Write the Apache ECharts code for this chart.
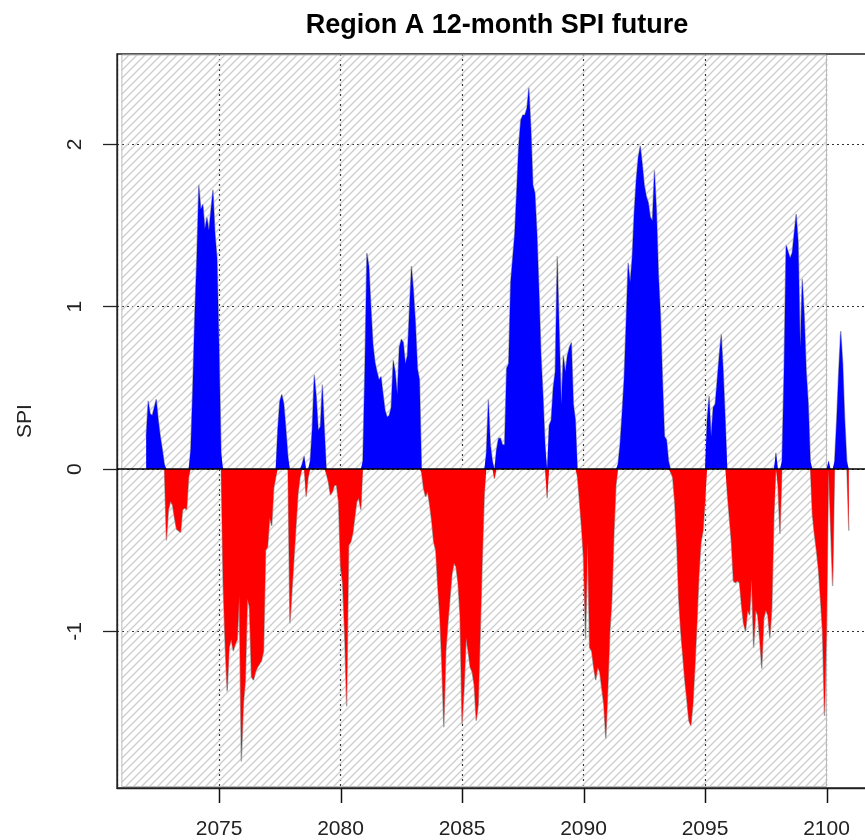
<!DOCTYPE html>
<html>
<head>
<meta charset="utf-8">
<script src="https://cdn.jsdelivr.net/npm/echarts@6/dist/echarts.min.js"></script>
<style>
html,body{margin:0;padding:0;background:#fff;}
#chart{width:865px;height:840px;}
</style>
</head>
<body>
<div id="chart"></div>
<script>
// ---- data (monthly 12-month SPI, Jan 2072 .. Dec 2100) ----
const startYear = 2072;
const spi2072_2079 = [
  0.2, 0.42, 0.34, 0.33, 0.38, 0.43, 0.3, 0.2, 0.12, 0.03, -0.44, -0.25,
  -0.2, -0.22, -0.3, -0.37, -0.38, -0.39, -0.25, -0.24, -0.25, -0.05, 0.12, 0.5,
  0.95, 1.3, 1.75, 1.6, 1.63, 1.48, 1.55, 1.47, 1.6, 1.72, 1.45, 1.3,
  0.75, 0.1, -0.7, -1.08, -1.37, -1.1, -1.05, -1.12, -1.08, -1.05, -0.78, -1.8,
  -1.45, -1.3, -0.8, -0.85, -1.28, -1.3, -1.25, -1.22, -1.2, -1.18, -1.12, -0.5,
  -0.48, -0.3, -0.35, -0.12, -0.05, 0.25, 0.42, 0.46, 0.4, 0.25, 0.08, -0.95,
  -0.75, -0.55, -0.35, -0.15, -0.05, 0.03, 0.08, -0.17, -0.05, 0.05, 0.25, 0.58,
  0.45, 0.24, 0.26, 0.52, 0.25, -0.03, -0.08, -0.16, -0.14, -0.1, -0.1, -0.2
];
const spi2080_2089 = [
  -0.6, -0.7, -1.0, -1.46, -0.47, -0.45, -0.4, -0.3, -0.2, -0.18, -0.25, 0.05,
  0.62, 1.33, 1.25, 1.0, 0.77, 0.66, 0.6, 0.55, 0.57, 0.46, 0.36, 0.32,
  0.33, 0.38, 0.67, 0.6, 0.46, 0.75, 0.8, 0.78, 0.65, 0.7, 0.98, 1.25,
  1.1, 0.9, 0.62, 0.55, -0.02, -0.12, -0.17, -0.14, -0.22, -0.32, -0.45, -0.5,
  -0.72, -0.9, -1.2, -1.59, -1.12, -0.95, -0.8, -0.65, -0.58, -0.6, -0.7, -0.9,
  -1.57, -1.35, -1.04, -1.12, -1.22, -1.25, -1.33, -1.55, -1.45, -1.0, -0.55, -0.15,
  0.1, 0.43, 0.15, 0.05, -0.06, 0.12, 0.19, 0.19, 0.15, 0.15, 0.62, 0.65,
  1.15, 1.3, 1.45, 1.72, 2.0, 2.15, 2.18, 2.18, 2.22, 2.35, 2.1, 1.75,
  1.7, 1.45, 1.1, 0.7, 0.45, 0.15, -0.18, 0.27, 0.3, 0.5, 0.6, 1.31,
  0.85, 0.4, 0.7, 0.6, 0.7, 0.75, 0.78, 0.4, 0.3, -0.05, -0.2, -0.36
];
const spi2090_2100 = [
  -0.55, -1.05, -0.45, -1.1, -1.12, -1.22, -1.3, -1.22, -1.25, -1.35, -1.45, -1.66,
  -1.35, -1.0, -0.8, -0.4, -0.1, 0.03, 0.15, 0.34, 0.55, 0.9, 1.27, 1.15,
  1.3, 1.58, 1.78, 1.92, 1.99, 1.88, 1.75, 1.68, 1.64, 1.55, 1.53, 1.84,
  1.6, 1.2, 0.95, 0.55, 0.2, 0.18, 0.05, -0.02, -0.05, -0.2, -0.45, -0.8,
  -1.0, -1.15, -1.3, -1.42, -1.55, -1.58, -1.45, -1.22, -0.95, -0.65, -0.45, -0.38,
  -0.2, 0.3, 0.45, 0.2, 0.38, 0.4, 0.55, 0.7, 0.83, 0.6, 0.3, -0.15,
  -0.3, -0.45, -0.69, -0.7, -0.69, -0.7, -0.84, -0.95, -1.0, -0.87, -0.9, -0.68,
  -1.1, -0.87, -0.9, -1.05, -1.23, -0.92, -0.87, -0.9, -1.04, -0.85, -0.3, 0.1,
  -0.1, -0.4, 0.05, 0.6, 1.38, 1.34, 1.3, 1.33, 1.45, 1.57, 1.4, 0.75,
  1.17, 0.95, 0.6, 0.4, 0.05, -0.28, -0.4, -0.5, -0.62, -0.8, -1.0, -1.52,
  -1.0, 0.05, -0.35, -0.72, 0.05, 0.3, 0.6, 0.85, 0.65, 0.3, 0.05, -0.38
];
const xTicks = [2075, 2080, 2085, 2090, 2095, 2100];
const yTicks = [-1, 0, 1, 2];
const hatchPeriod = [2071, 2100];
const xRange = [2070.8, 2102.2];
const yRange = [-1.964, 2.556];

// ---- build series from data ----
const spi = spi2072_2079.concat(spi2080_2089, spi2090_2100);
const pts = spi.map((v, i) => [startYear + i / 12, v]);
const posPts = pts.map(p => [p[0], Math.max(p[1], 0)]);
const negPts = pts.map(p => [p[0], Math.min(p[1], 0)]);

function hatchPattern() {
  const s = 8;
  const c = document.createElement('canvas');
  c.width = s; c.height = s;
  const ctx = c.getContext('2d');
  ctx.strokeStyle = '#cdcdcd';
  ctx.lineWidth = 1.3;
  for (let k = -1; k <= 1; k++) {
    ctx.beginPath();
    ctx.moveTo(k * s - 0.5, s + 0.5);
    ctx.lineTo(k * s + s + 0.5, -0.5);
    ctx.stroke();
  }
  return { image: c, repeat: 'repeat' };
}

const FONT = "'Liberation Sans', Arial, Helvetica, sans-serif";
const chart = echarts.init(document.getElementById('chart'), null, { renderer: 'canvas' });

chart.setOption({
  animation: false,
  backgroundColor: '#fff',
  title: {
    text: 'Region A 12-month SPI future',
    left: 497, top: 12, padding: 0,
    textAlign: 'center',
    textStyle: { fontFamily: FONT, fontSize: 27, fontWeight: 'bold', color: '#000' }
  },
  grid: {
    left: 117, top: 54, width: 763, height: 734,
    show: true, borderColor: '#222', borderWidth: 1.3, backgroundColor: 'transparent',
    containLabel: false, outerBoundsMode: 'none'
  },
  xAxis: {
    type: 'value', min: xRange[0], max: xRange[1], minInterval: 5, maxInterval: 5,
    axisLine: { show: true, onZero: false, lineStyle: { color: '#222', width: 1.3 } },
    axisTick: { show: false },
    axisLabel: { customValues: xTicks, formatter: v => String(v), fontFamily: FONT, fontSize: 21, color: '#222', margin: 31 },
    splitLine: { show: true, lineStyle: { color: '#333', type: [2, 3], width: 1.2 } }
  },
  yAxis: {
    type: 'value', min: yRange[0], max: yRange[1], minInterval: 1, maxInterval: 1,
    name: 'SPI', nameLocation: 'middle', nameGap: 81, nameRotate: 90,
    nameTextStyle: { fontFamily: FONT, fontSize: 21, color: '#222' },
    axisLine: { show: true, onZero: false, lineStyle: { color: '#222', width: 1.3 } },
    axisTick: { show: true, length: 14, lineStyle: { color: '#222', width: 1.3 }, customValues: yTicks },
    axisLabel: { customValues: yTicks, formatter: v => String(v), rotate: 90, fontFamily: FONT, fontSize: 21, color: '#222', margin: 31 },
    splitLine: { show: true, lineStyle: { color: '#333', type: [2, 3], width: 1.2 } }
  },
  series: [
    {
      type: 'line', z: 1, silent: true, symbol: 'none',
      data: [[hatchPeriod[0], 0]], lineStyle: { opacity: 0 },
      markArea: {
        silent: true,
        itemStyle: { color: hatchPattern(), borderColor: '#bbb', borderWidth: 1 },
        data: [[{ xAxis: hatchPeriod[0], yAxis: -1.955 }, { xAxis: hatchPeriod[1], yAxis: 2.55 }]]
      }
    },
    {
      type: 'line', z: 2, silent: true, symbol: 'none', data: pts,
      lineStyle: { color: '#a8a8a8', width: 1.4 }
    },
    {
      type: 'line', z: 3, silent: true, symbol: 'none', data: posPts,
      lineStyle: { opacity: 0 },
      areaStyle: { color: '#0000ff', opacity: 1, origin: 0 }
    },
    {
      type: 'line', z: 3, silent: true, symbol: 'none', data: negPts,
      lineStyle: { opacity: 0 },
      areaStyle: { color: '#ff0000', opacity: 1, origin: 0 },
      markLine: {
        silent: true, symbol: 'none', label: { show: false },
        lineStyle: { color: '#000', type: 'solid', width: 1.5 },
        data: [{ yAxis: 0 }]
      }
    }
  ]
});

// x-axis tick marks below the plot box, positioned through the axis scale
const tickEls = xTicks.map(t => {
  const p = chart.convertToPixel({ xAxisIndex: 0, yAxisIndex: 0 }, [t, yRange[0]]);
  const x = Math.round(p[0]) + 0.5;
  return {
    type: 'line', silent: true, z: 100,
    shape: { x1: x, y1: p[1], x2: x, y2: p[1] + 15 },
    style: { stroke: '#111', lineWidth: 1.5 }
  };
});
chart.setOption({ graphic: { elements: tickEls } });
</script>
</body>
</html>
